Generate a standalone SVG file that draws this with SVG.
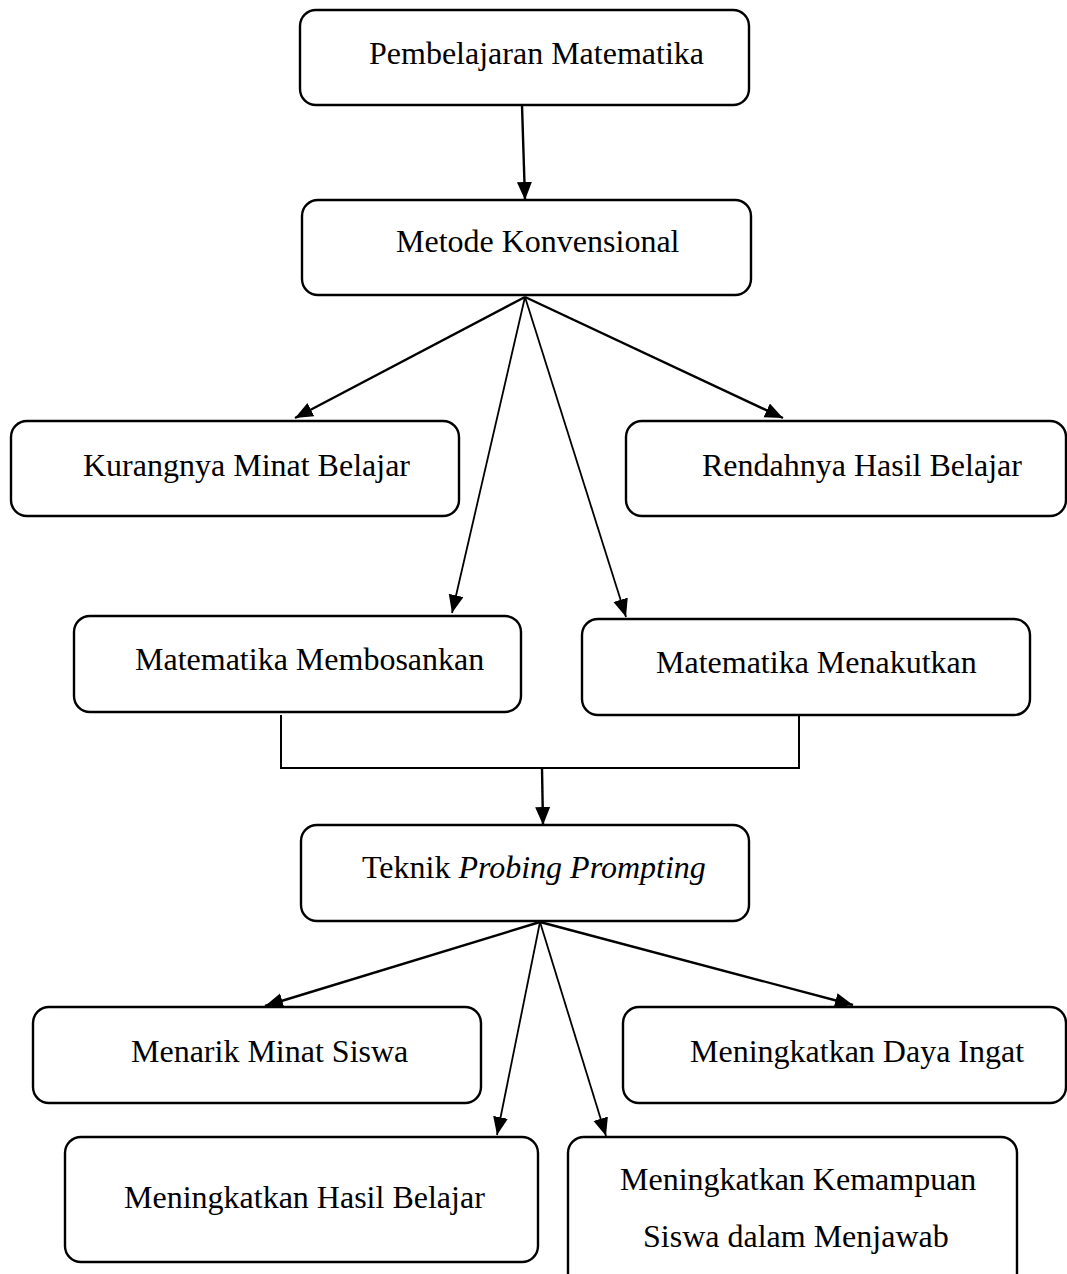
<svg xmlns="http://www.w3.org/2000/svg" width="1067" height="1274" viewBox="0 0 1067 1274">
<style>
.box{fill:#fff;stroke:#000;stroke-width:2.4}
.t{font-family:"Liberation Serif","Times New Roman",serif;font-size:32px;fill:#000}
.c{stroke:#000;stroke-width:2.4;fill:none}
.c2{stroke:#000;stroke-width:1.8;fill:none}
.br{stroke:#000;stroke-width:1.3;fill:none;shape-rendering:crispEdges}
</style>
<defs>
<marker id="ah" markerUnits="userSpaceOnUse" markerWidth="20" markerHeight="16" refX="18" refY="7.5" orient="auto">
<path d="M0,0 L18,7.5 L0,15 z" fill="#000"/>
</marker>
</defs>
<rect width="1067" height="1274" fill="#fff"/>
<g id="connectors">
<line class="c" x1="522" y1="105" x2="525" y2="200" marker-end="url(#ah)"/>
<line class="c" x1="525" y1="297" x2="295" y2="418" marker-end="url(#ah)"/>
<line class="c" x1="525" y1="297" x2="783" y2="418" marker-end="url(#ah)"/>
<line class="c2" x1="525" y1="297" x2="452" y2="613" marker-end="url(#ah)"/>
<line class="c2" x1="525" y1="297" x2="626" y2="617" marker-end="url(#ah)"/>
<polyline class="br" points="281,715 281,768 799,768 799,716"/>
<line class="c" x1="542" y1="768" x2="543" y2="825" marker-end="url(#ah)"/>
<line class="c" x1="540" y1="922" x2="265" y2="1006" marker-end="url(#ah)"/>
<line class="c" x1="540" y1="922" x2="853" y2="1005" marker-end="url(#ah)"/>
<line class="c2" x1="540" y1="922" x2="497" y2="1135" marker-end="url(#ah)"/>
<line class="c2" x1="540" y1="922" x2="606" y2="1136" marker-end="url(#ah)"/>
</g>
<g id="n1"><rect class="box" x="300" y="10" width="449" height="95" rx="16"/><text class="t" x="369" y="64">Pembelajaran Matematika</text></g>
<g id="n2"><rect class="box" x="302" y="200" width="449" height="95" rx="16"/><text class="t" x="396" y="252">Metode Konvensional</text></g>
<g id="n3"><rect class="box" x="11" y="421" width="448" height="95" rx="16"/><text class="t" x="83" y="476">Kurangnya Minat Belajar</text></g>
<g id="n4"><rect class="box" x="626" y="421" width="440" height="95" rx="16"/><text class="t" x="702" y="476">Rendahnya Hasil Belajar</text></g>
<g id="n5"><rect class="box" x="74" y="616" width="447" height="96" rx="16"/><text class="t" x="135" y="670">Matematika Membosankan</text></g>
<g id="n6"><rect class="box" x="582" y="619" width="448" height="96" rx="16"/><text class="t" x="656" y="673">Matematika Menakutkan</text></g>
<g id="n7"><rect class="box" x="301" y="825" width="448" height="96" rx="16"/><text class="t" x="362" y="878">Teknik <tspan font-style="italic">Probing Prompting</tspan></text></g>
<g id="n8"><rect class="box" x="33" y="1007" width="448" height="96" rx="16"/><text class="t" x="131" y="1062">Menarik Minat Siswa</text></g>
<g id="n9"><rect class="box" x="623" y="1007" width="443" height="96" rx="16"/><text class="t" x="690" y="1062">Meningkatkan Daya Ingat</text></g>
<g id="n10"><rect class="box" x="65" y="1137" width="473" height="125" rx="16"/><text class="t" x="124" y="1208">Meningkatkan Hasil Belajar</text></g>
<g id="n11"><rect class="box" x="568" y="1137" width="449" height="160" rx="16"/><text class="t" x="620" y="1190">Meningkatkan Kemampuan</text><text class="t" x="643" y="1247">Siswa dalam Menjawab</text></g>
</svg>
